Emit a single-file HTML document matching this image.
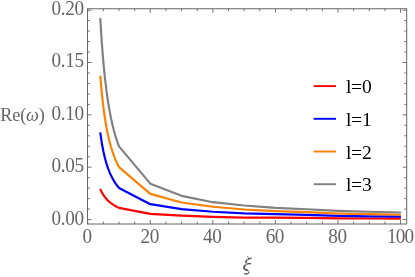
<!DOCTYPE html><html><head><meta charset="utf-8"><style>html,body{margin:0;padding:0;background:#fff}svg{display:block;will-change:transform}text{font-family:"Liberation Serif",serif}</style></head><body>
<svg width="415" height="277" viewBox="0 0 415 277">
<rect width="415" height="277" fill="#fff"/>
<path d="M100.23 188.88 L101.80 192.21 L103.36 194.92 L104.93 197.14 L106.49 199.02 L108.05 200.63 L109.62 202.04 L111.18 203.28 L112.75 204.39 L114.31 205.40 L115.87 206.31 L117.44 207.14 L119.00 207.89 L150.29 213.88 L181.57 215.56 L212.85 216.84 L244.13 217.62 L275.42 217.63 L306.70 217.84 L337.98 218.35 L369.27 218.45 L400.90 218.55" fill="none" stroke="#ff0000" stroke-width="2.15" stroke-linejoin="round" stroke-linecap="butt"/>
<path d="M100.23 132.43 L101.80 142.93 L103.36 151.27 L104.93 158.03 L106.49 163.62 L108.05 168.33 L109.62 172.35 L111.18 175.83 L112.75 178.86 L114.31 181.54 L115.87 183.91 L117.44 186.03 L119.00 187.94 L150.29 204.18 L181.57 209.11 L212.85 211.74 L244.13 213.34 L275.42 214.09 L306.70 214.82 L337.98 215.84 L369.27 216.37 L400.90 216.68" fill="none" stroke="#0000ff" stroke-width="2.15" stroke-linejoin="round" stroke-linecap="butt"/>
<path d="M100.23 75.70 L101.80 93.20 L103.36 107.03 L104.93 118.24 L106.49 127.49 L108.05 135.26 L109.62 141.86 L111.18 147.54 L112.75 152.48 L114.31 156.81 L115.87 160.64 L117.44 164.04 L119.00 167.09 L150.29 193.87 L181.57 202.45 L212.85 206.74 L244.13 209.49 L275.42 211.06 L306.70 212.11 L337.98 213.45 L369.27 214.18 L400.90 214.80" fill="none" stroke="#ff8000" stroke-width="2.15" stroke-linejoin="round" stroke-linecap="butt"/>
<path d="M100.23 18.19 L101.80 42.76 L103.36 62.18 L104.93 77.90 L106.49 90.88 L108.05 101.77 L109.62 111.02 L111.18 118.99 L112.75 125.90 L114.31 131.97 L115.87 137.33 L117.44 142.09 L119.00 146.36 L150.29 183.66 L181.57 195.87 L212.85 202.19 L244.13 205.53 L275.42 207.83 L306.70 209.29 L337.98 210.84 L369.27 211.78 L400.90 212.51" fill="none" stroke="#808080" stroke-width="2.15" stroke-linejoin="round" stroke-linecap="butt"/>
<rect x="87.50" y="8.75" width="319.20" height="215.25" fill="none" stroke="#666" stroke-width="1"/>
<path d="M87.72 224.00V220.00M87.72 8.75V12.75M103.36 224.00V221.60M103.36 8.75V11.15M119.00 224.00V221.60M119.00 8.75V11.15M134.64 224.00V221.60M134.64 8.75V11.15M150.29 224.00V220.00M150.29 8.75V12.75M165.93 224.00V221.60M165.93 8.75V11.15M181.57 224.00V221.60M181.57 8.75V11.15M197.21 224.00V221.60M197.21 8.75V11.15M212.85 224.00V220.00M212.85 8.75V12.75M228.49 224.00V221.60M228.49 8.75V11.15M244.13 224.00V221.60M244.13 8.75V11.15M259.78 224.00V221.60M259.78 8.75V11.15M275.42 224.00V220.00M275.42 8.75V12.75M291.06 224.00V221.60M291.06 8.75V11.15M306.70 224.00V221.60M306.70 8.75V11.15M322.34 224.00V221.60M322.34 8.75V11.15M337.98 224.00V220.00M337.98 8.75V12.75M353.63 224.00V221.60M353.63 8.75V11.15M369.27 224.00V221.60M369.27 8.75V11.15M384.91 224.00V221.60M384.91 8.75V11.15M400.55 224.00V220.00M400.55 8.75V12.75M87.50 219.55H91.50M406.70 219.55H402.70M87.50 209.08H89.90M406.70 209.08H404.30M87.50 198.61H89.90M406.70 198.61H404.30M87.50 188.14H89.90M406.70 188.14H404.30M87.50 177.67H89.90M406.70 177.67H404.30M87.50 167.20H91.50M406.70 167.20H402.70M87.50 156.73H89.90M406.70 156.73H404.30M87.50 146.26H89.90M406.70 146.26H404.30M87.50 135.79H89.90M406.70 135.79H404.30M87.50 125.32H89.90M406.70 125.32H404.30M87.50 114.85H91.50M406.70 114.85H402.70M87.50 104.38H89.90M406.70 104.38H404.30M87.50 93.91H89.90M406.70 93.91H404.30M87.50 83.44H89.90M406.70 83.44H404.30M87.50 72.97H89.90M406.70 72.97H404.30M87.50 62.50H91.50M406.70 62.50H402.70M87.50 52.03H89.90M406.70 52.03H404.30M87.50 41.56H89.90M406.70 41.56H404.30M87.50 31.09H89.90M406.70 31.09H404.30M87.50 20.62H89.90M406.70 20.62H404.30M87.50 10.15H91.50M406.70 10.15H402.70" stroke="#666" stroke-width="0.9" fill="none"/>
<text transform="translate(87.12 243.3) scale(1 1.040)" font-size="19.2" letter-spacing="-0.4" fill="#666" text-anchor="middle">0</text>
<text transform="translate(149.69 243.3) scale(1 1.040)" font-size="19.2" letter-spacing="-0.4" fill="#666" text-anchor="middle">20</text>
<text transform="translate(212.25 243.3) scale(1 1.040)" font-size="19.2" letter-spacing="-0.4" fill="#666" text-anchor="middle">40</text>
<text transform="translate(274.82 243.3) scale(1 1.040)" font-size="19.2" letter-spacing="-0.4" fill="#666" text-anchor="middle">60</text>
<text transform="translate(337.38 243.3) scale(1 1.040)" font-size="19.2" letter-spacing="-0.4" fill="#666" text-anchor="middle">80</text>
<text transform="translate(400.05 243.3) scale(1 1.040)" font-size="19.2" letter-spacing="-0.9" fill="#666" text-anchor="middle">100</text>
<text transform="translate(83.6 224.60) scale(1 1.040)" font-size="19.2" letter-spacing="-0.4" fill="#666" text-anchor="end">0.00</text>
<text transform="translate(83.6 172.20) scale(1 1.040)" font-size="19.2" letter-spacing="-0.4" fill="#666" text-anchor="end">0.05</text>
<text transform="translate(83.6 119.80) scale(1 1.040)" font-size="19.2" letter-spacing="-0.4" fill="#666" text-anchor="end">0.10</text>
<text transform="translate(83.6 67.40) scale(1 1.040)" font-size="19.2" letter-spacing="-0.4" fill="#666" text-anchor="end">0.15</text>
<text transform="translate(83.6 15.00) scale(1 1.040)" font-size="19.2" letter-spacing="-0.4" fill="#666" text-anchor="end">0.20</text>
<text x="0.3" y="121" font-size="18.2" letter-spacing="-0.17" fill="#666">Re(<tspan font-style="italic">ω</tspan>)</text>
<g fill="none" stroke="#555" stroke-linecap="round" stroke-linejoin="round"><path d="M247.64 256.33 L248.54 258.68" stroke-width="0.7"/><path d="M248.36 258.86 L251.52 258.05" stroke-width="1.1"/><path d="M249.26 259.22 C247.18 259.58 245.65 261.03 245.83 262.20 C246.01 263.37 247.64 263.55 250.52 263.64" stroke-width="0.8"/><path d="M246.55 260.12 C245.83 261.03 245.65 261.93 246.19 262.74" stroke-width="1.5"/><path d="M248.36 263.64 L250.52 263.64" stroke-width="1.3"/><path d="M248.09 264.09 C245.38 264.82 243.57 266.44 243.84 268.06 C244.12 269.69 246.73 269.87 248.18 270.77 C249.44 271.58 249.26 272.94 247.64 273.75 C246.55 274.20 245.11 274.20 244.57 273.66" stroke-width="0.8"/><path d="M245.11 265.36 C243.84 266.44 243.66 268.06 244.75 269.15 C245.47 269.69 246.55 269.96 247.45 270.32" stroke-width="1.7"/><path d="M248.54 272.94 C247.64 273.84 245.83 274.20 244.75 273.75" stroke-width="1.1"/></g>
<path d="M313.7 86.10H336" stroke="#ff0000" stroke-width="1.9" fill="none"/>
<text x="345.9" y="92.90" font-size="19.6" letter-spacing="-0.25" fill="#000">l=0</text>
<path d="M313.7 118.80H336" stroke="#0000ff" stroke-width="1.9" fill="none"/>
<text x="345.9" y="125.72" font-size="19.6" letter-spacing="-0.25" fill="#000">l=1</text>
<path d="M313.7 151.50H336" stroke="#ff8000" stroke-width="1.9" fill="none"/>
<text x="345.9" y="158.54" font-size="19.6" letter-spacing="-0.25" fill="#000">l=2</text>
<path d="M313.7 184.20H336" stroke="#808080" stroke-width="1.9" fill="none"/>
<text x="345.9" y="191.36" font-size="19.6" letter-spacing="-0.25" fill="#000">l=3</text>
</svg></body></html>
